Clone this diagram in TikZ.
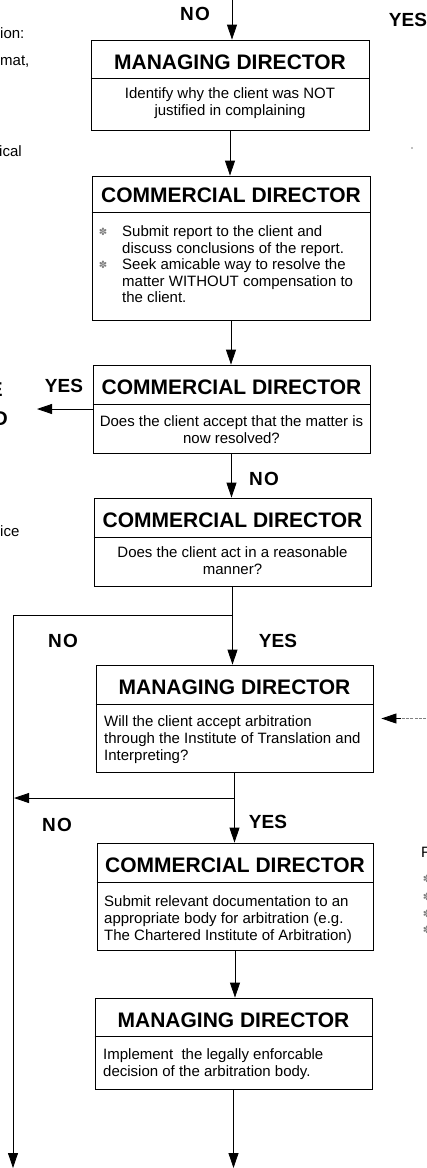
\documentclass[tikz,border=0pt]{standalone}
\usepackage{fontspec}
\setmainfont{Liberation Sans}
\newfontfamily\dejavu{DejaVu Sans}
\usetikzlibrary{arrows.meta}
\begin{document}
\begin{tikzpicture}[x=1pt,y=-1pt,
  box/.style={draw, line width=0.8pt, inner sep=0pt},
  head/.style={font=\fontsize{21}{24}\selectfont\bfseries, inner sep=0pt, anchor=center},
  body/.style={font=\fontsize{15}{17}\selectfont, inner sep=0pt, anchor=north, align=center},
  bodyl/.style={font=\fontsize{15}{17}\selectfont, inner sep=0pt, anchor=north west, align=left},
  bodyb/.style={font=\fontsize{15}{16.5}\selectfont, inner sep=0pt, anchor=north west, align=left},
  lbl/.style={font=\fontsize{19}{20}\selectfont\bfseries, inner sep=0pt},
  frag/.style={font=\fontsize{15}{17}\selectfont, inner sep=0pt},
  fragb/.style={font=\fontsize{20}{22}\selectfont\bfseries, inner sep=0pt},
  conn/.style={line width=0.8pt},
  arr/.style={conn, -{Triangle[length=15pt,width=10pt]}},
  bul/.style={font=\dejavu\fontsize{10}{10}\selectfont, text=gray, inner sep=0pt},
  divider/.style={line width=0.8pt}
]
\useasboundingbox (0,0) rectangle (426,1168);
\clip (0,0) rectangle (426,1168);

% ---------- Box 1
\node[box, minimum width=278pt, minimum height=90pt] (b1) at (230,85) {};
\node[head] (h1) at (230,62) {MANAGING DIRECTOR};
\draw[divider] ([yshift=-39pt]b1.north west) -- ([yshift=-39pt]b1.north east);
\node[body] (t1) at (230,87.5) {Identify why the client was NOT\\justified in complaining};

% ---------- Box 2
\node[box, minimum width=278pt, minimum height=144pt] (b2) at (231,248) {};
\node[head] (h2) at (231,195) {COMMERCIAL DIRECTOR};
\draw[divider] ([yshift=-37pt]b2.north west) -- ([yshift=-37pt]b2.north east);
\node[bul] (u1) at (103,232) {✽};
\node[bodyb] (t2a) at (122,225.5) {Submit report to the client and\\discuss conclusions of the report.};
\node[bul] (u2) at (103,265) {✽};
\node[bodyb] (t2b) at (122,258.5) {Seek amicable way to resolve the\\matter WITHOUT compensation to\\the client.};

% ---------- Box 3
\node[box, minimum width=277pt, minimum height=88pt] (b3) at (231.5,409) {};
\node[head] (h3) at (231.5,387) {COMMERCIAL DIRECTOR};
\draw[divider] ([yshift=-40pt]b3.north west) -- ([yshift=-40pt]b3.north east);
\node[body] (t3) at (231.5,415.5) {Does the client accept that the matter is\\now resolved?};

% ---------- Box 4
\node[box, minimum width=277pt, minimum height=88pt] (b4) at (232.5,542) {};
\node[head] (h4) at (232.5,520) {COMMERCIAL DIRECTOR};
\draw[divider] ([yshift=-40pt]b4.north west) -- ([yshift=-40pt]b4.north east);
\node[body] (t4) at (232.5,546.5) {Does the client act in a reasonable\\manner?};

% ---------- Box 5
\node[box, minimum width=277pt, minimum height=107pt] (b5) at (234.5,718.5) {};
\node[head] (h5) at (234.5,687) {MANAGING DIRECTOR};
\draw[divider] ([yshift=-40pt]b5.north west) -- ([yshift=-40pt]b5.north east);
\node[bodyl] (t5) at (104,715.5) {Will the client accept arbitration\\through the Institute of Translation and\\Interpreting?};

% ---------- Box 6
\node[box, minimum width=276pt, minimum height=107pt] (b6) at (235,896.5) {};
\node[head] (h6) at (235,865) {COMMERCIAL DIRECTOR};
\draw[divider] ([yshift=-40pt]b6.north west) -- ([yshift=-40pt]b6.north east);
\node[bodyl] (t6) at (104,895.5) {Submit relevant documentation to an\\appropriate body for arbitration (e.g.\\The Chartered Institute of Arbitration)};

% ---------- Box 7
\node[box, minimum width=277pt, minimum height=91pt] (b7) at (233.5,1043.5) {};
\node[head] (h7) at (233.5,1020) {MANAGING DIRECTOR};
\draw[divider] ([yshift=-39pt]b7.north west) -- ([yshift=-39pt]b7.north east);
\node[bodyl] (t7) at (103,1048.5) {Implement\ \ the legally enforcable\\decision of the arbitration body.};

% ---------- Connectors
\coordinate (top) at (232,0);
\draw[arr] (top) -- (top |- b1.north);
\draw[arr] (b1.south) -- (b1.south |- b2.north);
\draw[arr] (b2.south) -- (b2.south |- b3.north);
\draw[arr] (b3.south) -- (b3.south |- b4.north);
\coordinate (yesend) at (37,409);
\draw[arr] (b3.west) -- (yesend);
\draw[arr] (b4.south) -- (b4.south |- b5.north);
\coordinate (br1) at (232.5,615);
\coordinate (lc) at (13,615);
\coordinate (lend) at (13,1168);
\draw[arr] (br1) -- (lc) -- (lend);
\coordinate (rin) at (426,718.5);
\draw[conn, gray, dash pattern=on 3pt off 1.2pt] (rin) -- ([xshift=28pt]b5.east);
\draw[arr, shorten >=8pt] ([xshift=28pt]b5.east) -- (b5.east);
\draw[arr] (b5.south) -- (b5.south |- b6.north);
\coordinate (br2) at (234.5,798);
\coordinate (lhit) at (14,798);
\draw[arr] (br2) -- (lhit);
\draw[arr] (b6.south) -- (b6.south |- b7.north);
\coordinate (bend) at (233.5,1168);
\draw[arr] (b7.south) -- (bend);

% ---------- Labels
\node[lbl] (lno0) at (195,14) {N\kern1.5pt O};
\node[lbl] (lyes0) at (408,20) {YES};
\node[lbl] (lyes1) at (64,386) {YES};
\node[lbl] (lno1) at (264,479) {N\kern1.5pt O};
\node[lbl] (lno2) at (63,641) {N\kern1.5pt O};
\node[lbl] (lyes2) at (278,641) {YES};
\node[lbl] (lno3) at (57,825) {N\kern1.5pt O};
\node[lbl] (lyes3) at (268,822) {YES};

% ---------- Fragments of neighbouring text at the edges (cut, as in the reference)
\node[frag, anchor=west] (f1) at (0,33) {ion:};
\node[frag, anchor=west] (f2) at (0,62) {mat,};
\node[frag, anchor=west] (f3) at (-1,151) {ical};
\node[frag, anchor=west] (f4) at (0,531) {ice};
\node[fragb, anchor=east] (f5) at (3,390) {E};
\node[fragb, anchor=east] (f6) at (8,419) {D};
\node[frag, anchor=west] (f7) at (421,852) {F};
\fill[gray] (412,148) circle (0.8pt);
\node[bul] (g1) at (427,879) {✽};
\node[bul] (g2) at (427,897) {✽};
\node[bul] (g3) at (427,914) {✽};
\node[bul] (g4) at (427,930) {✽};
\end{tikzpicture}
\end{document}
